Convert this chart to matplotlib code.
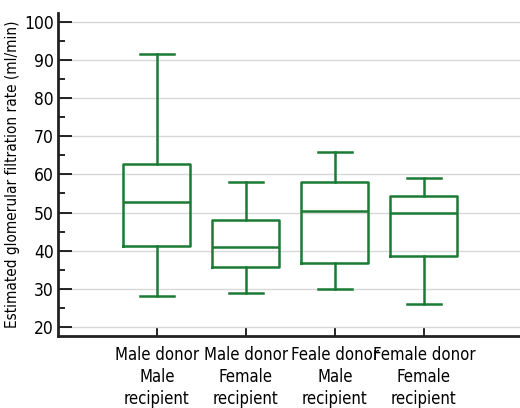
import numpy as np
import matplotlib.pyplot as plt

plt.rcParams['font.family'] = ['DejaVu Sans']
plt.rcParams['font.stretch'] = 'condensed'

groups = ['Male donor\nMale\nrecipient', 'Male donor\nFemale\nrecipient',
          'Feale donor\nMale\nrecipient', 'Female donor\nFemale\nrecipient']
whislo = [28, 29, 30, 26]
q1 = [41.2, 35.6, 36.8, 38.6]
med = [52.8, 40.9, 50.4, 49.8]
q3 = [62.7, 48.0, 58.0, 54.4]
whishi = [91.5, 58, 66, 59]

green = '#1b7a34'

stats = []
for i in range(len(groups)):
    stats.append({'whislo': whislo[i], 'q1': q1[i], 'med': med[i],
                  'q3': q3[i], 'whishi': whishi[i], 'fliers': []})

fig = plt.figure(figsize=(5.2, 4.08), dpi=100)
ax = fig.add_axes([0.1115, 0.1765, 0.8885, 0.792])

lp = dict(color=green, linewidth=1.8)
ax.bxp(stats, positions=[1, 2, 3, 4], widths=0.75, showfliers=False,
       boxprops=lp, medianprops=lp, whiskerprops=lp, capprops=lp,
       capwidths=0.38)

ax.set_xlim(-0.11, 5.08)
ax.set_ylim(17.6, 102.4)
ax.set_yticks(np.arange(20, 101, 10))
ax.set_yticks(np.arange(20, 101, 5), minor=True)
ax.set_xticks([1, 2, 3, 4])
ax.set_xticklabels(groups, fontsize=12, linespacing=1.3)
ax.tick_params(axis='y', labelsize=12.5, direction='in', length=10, width=1.2, pad=3)
ax.tick_params(axis='y', which='minor', direction='in', length=5, width=1.2)
ax.tick_params(axis='x', direction='in', length=6, width=1.2, pad=7)

ax.yaxis.grid(True, color='#d8d8d8', linewidth=1)
ax.set_axisbelow(True)
for s in ['top', 'right']:
    ax.spines[s].set_visible(False)
for s in ['left', 'bottom']:
    ax.spines[s].set_linewidth(2)
    ax.spines[s].set_color('#222222')

ax.set_ylabel('Estimated glomerular filtration rate (ml/min)', fontsize=11, labelpad=3)

fig.savefig('out.png', dpi=100)
